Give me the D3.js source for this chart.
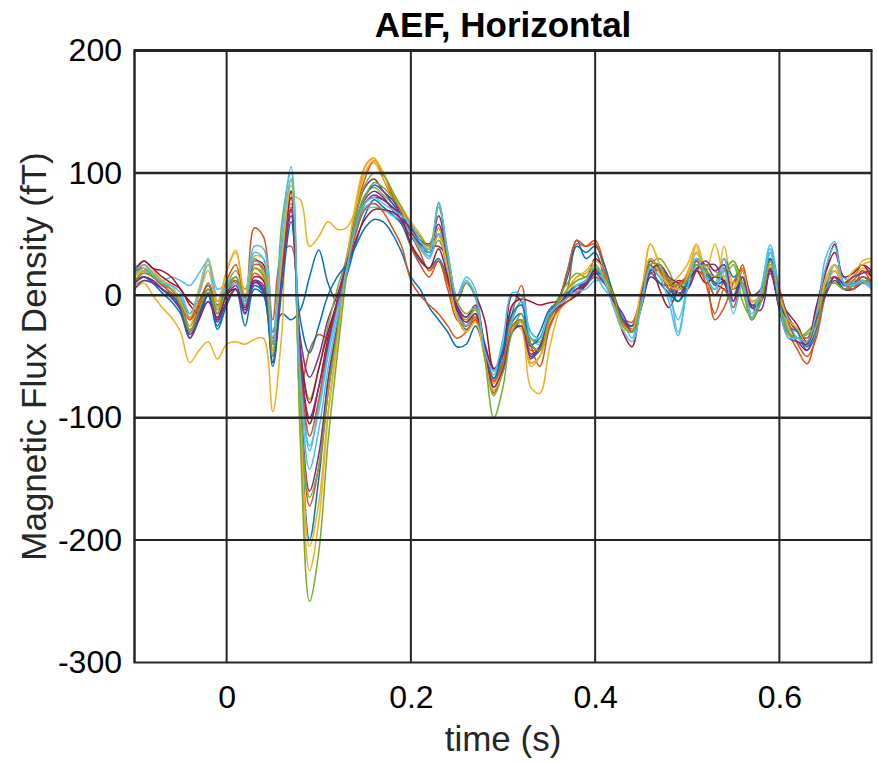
<!DOCTYPE html>
<html>
<head>
<meta charset="utf-8">
<script src="https://cdn.jsdelivr.net/npm/d3@7"></script>
<style>
  html, body { margin: 0; padding: 0; background: #fff; }
  svg { display: block; font-family: "Liberation Sans", Arial, Helvetica, sans-serif; }
</style>
</head>
<body>
<svg id="chart" width="878" height="762"></svg>
<script>
// Sample times (s)
const time = [-0.10,-0.09,-0.08,-0.07,-0.06,-0.05,-0.04,-0.03,-0.02,-0.01,
  0.00,0.01,0.02,0.03,0.04,0.05,0.06,0.07,0.08,0.09,
  0.10,0.11,0.12,0.13,0.14,0.15,0.16,0.17,0.18,0.19,
  0.20,0.21,0.22,0.23,0.24,0.25,0.26,0.27,0.28,0.29,
  0.30,0.31,0.32,0.33,0.34,0.35,0.36,0.37,0.38,0.39,
  0.40,0.41,0.42,0.43,0.44,0.45,0.46,0.47,0.48,0.49,
  0.50,0.51,0.52,0.53,0.54,0.55,0.56,0.57,0.58,0.59,
  0.60,0.61,0.62,0.63,0.64,0.65,0.66,0.67,0.68,0.69,
  0.70];

// Averaged evoked field per horizontal channel (fT)
const ch01 = [20,22,15,10,5,-2,-18,-5,8,-8, 6,12,-2,12,2,-30,-15,-20,-12,15, 37,10,-5,15,42,65,78,72,66,58, 40,28,22,30,12,-15,-28,-20,-45,-68, -50,-22,-15,-42,-30,-12,-4,20,45,30, 35,15,-5,-22,-30,-10,20,22,10,0, 12,30,22,8,12,10,20,-8,0,30, 5,-20,-28,-40,-22,8,20,8,10,15, 12];
const ch02 = [15,25,18,10,0,-8,-25,-10,10,-5, 8,15,-2,55,48,-20,35,40,-77,-45, -32,-35,-5,30,70,105,112,95,80,68, 50,35,20,28,10,-15,-25,-18,-48,-80, -60,-15,8,-40,-58,-28,-10,5,42,40, 45,25,0,-18,-22,0,20,25,15,5, 18,35,20,-20,-10,10,22,0,5,28, 2,-30,-45,-56,-30,12,25,10,12,20, 15];
const ch03 = [5,10,0,-10,-18,-30,-55,-45,-38,-52, -40,-38,-40,-36,-35,-95,-30,80,78,40, 48,60,54,55,70,100,108,95,82,70, 55,42,35,50,22,-10,-30,-20,-50,-78, -60,-25,-28,-75,-80,-45,-15,0,12,15, 25,12,-5,-25,-30,-2,42,25,5,8, 18,40,10,5,40,10,15,-10,0,22, -5,-20,-30,-38,-20,15,20,10,15,22, 18];
const ch04 = [10,15,12,5,0,-10,-30,-12,2,-15, 0,8,-10,12,5,-45,20,65,-35,-67, -50,-20,0,25,55,78,85,80,70,60, 48,40,35,55,25,-8,-18,-10,-40,-75, -58,-28,-25,-52,-42,-20,-10,-5,0,8, 18,15,0,-18,-28,-8,18,20,12,2, 5,22,25,15,22,0,10,-8,-5,18, -10,-25,-30,-38,-22,2,15,5,8,10, 8];
const ch05 = [8,12,10,5,0,-12,-35,-15,0,-20, 8,20,5,30,18,-40,40,75,-45,-85, -60,-25,5,30,60,82,88,82,75,65, 50,40,32,45,20,-12,-20,-12,-42,-72, -48,-18,-5,-30,-35,-15,-5,0,8,12, 20,18,2,-22,-30,-5,25,30,20,5, 8,20,15,15,20,28,10,-20,-5,20, -5,-25,-35,-30,-22,5,15,5,10,12, 10];
const ch06 = [25,22,18,12,15,12,8,18,28,5, 10,15,0,40,38,-38,35,85,-60,-123, -95,-50,-15,25,55,72,75,70,65,62, 55,42,32,75,35,0,15,5,-45,-65, -40,-10,0,-35,-40,-15,-5,0,5,8, 15,5,-5,-20,-35,0,20,15,5,-30, 5,35,20,0,25,-10,10,-15,5,41, 5,-25,-35,-40,-20,30,44,10,5,10, 5];
const ch07 = [18,28,22,20,15,5,-5,-10,0,-20, 2,10,-8,28,25,-30,25,70,-45,-88, -60,-30,-5,25,55,75,80,78,72,65, 58,45,40,40,30,-5,10,0,-20,-60, -45,0,-5,-40,-45,-20,-10,-5,0,10, 30,20,-5,-30,-42,-5,25,5,-10,5, 15,25,20,10,5,0,15,-10,-5,30, -5,-15,-25,-40,-10,20,42,10,15,25, 15];
const ch08 = [12,15,10,2,-5,-15,-35,-20,0,-28, -8,5,-25,5,0,-55,20,85,-100,-200, -150,-80,-30,20,55,80,90,85,75,65, 55,45,35,50,20,-15,-25,-15,-45,-70, -55,-28,-20,-50,-45,-20,-5,15,40,35, 40,25,0,-20,-28,-5,28,22,10,-5, 5,25,18,10,30,15,20,-5,0,35, 5,-18,-30,-45,-30,5,25,15,10,15, 12];
const ch09 = [10,20,15,8,5,-5,-20,-5,5,-10, 12,25,-2,18,12,-40,25,70,-85,-172, -140,-70,-25,25,65,95,110,100,82,68, 40,25,15,28,5,-20,-25,-18,-50,-75, -62,-30,-25,-55,-50,-25,-12,-5,2,10, 15,10,-5,-25,-30,-10,20,25,12,8, 15,20,15,0,10,5,25,-5,0,20, -5,-20,-30,-35,-15,10,15,5,5,20, 10];
const ch10 = [15,20,18,12,5,-10,-25,0,20,-10, 20,35,0,32,30,-45,25,80,-100,-205, -170,-95,-35,25,70,100,110,100,85,72, 60,50,40,55,25,-18,-30,-20,-50,-72, -58,-25,-22,-58,-50,-20,-5,5,15,20, 28,20,-8,-28,-25,0,42,25,10,15, 25,42,20,10,30,5,20,-5,0,28, 0,-25,-28,-40,-25,10,20,10,15,28, 30];
const ch11 = [5,12,10,5,-2,-10,-35,-18,0,-22, 0,5,-15,10,5,-55,20,85,-80,-160, -130,-70,-25,25,65,88,95,85,78,65, 52,42,38,65,30,-10,-25,-15,-45,-78, -62,-30,-22,-48,-42,-18,-8,-2,5,12, 20,15,-2,-20,-25,0,30,20,5,0, 10,28,25,25,10,-5,20,0,5,20, -10,-30,-38,-45,-25,0,12,5,5,10, 12];
const ch12 = [18,22,16,10,5,-5,-28,-15,5,-12, 5,15,-5,22,15,-50,30,95,-85,-165, -140,-80,-30,20,55,80,92,88,80,70, 55,45,38,72,35,-5,10,-2,-48,-82, -62,-30,-15,-35,-38,-18,-2,10,18,15, 22,12,0,-22,-30,-5,20,22,15,5, 10,20,25,20,15,25,-5,-18,0,25, -10,-32,-35,-30,-20,5,10,5,8,10, 10];
const ch13 = [18,20,15,10,5,-2,-15,5,30,-5, 8,12,-8,28,22,-30,40,95,-60,-127, -90,-45,-10,25,50,70,72,70,68,62, 50,38,30,50,18,-15,-25,-15,-38,-62, -48,-20,-5,-35,-35,-15,-5,0,3,5, 12,10,-2,-18,-25,-5,18,10,0,-20, 5,25,15,5,30,-5,8,-20,-5,35, 5,-28,-30,-42,-30,0,25,15,10,12, 8];
const ch14 = [20,28,22,15,10,5,-8,-15,-5,-18, 0,5,-12,15,12,-40,25,80,-50,-105, -75,-35,-5,20,45,62,70,70,68,62, 42,30,22,38,15,-12,-22,-15,-40,-60, -48,-8,-3,-5,-8,-6,-5,0,5,8, 22,15,0,-20,-25,-10,15,10,8,12, 12,20,10,15,12,5,10,-10,-5,22, -8,-20,-28,-38,-10,18,35,15,18,25, 20];
const ch15 = [12,15,12,5,0,-8,-30,-15,0,-25, -5,5,-15,8,2,-58,5,60,-20,-47, -25,0,15,25,40,55,62,60,50,35, 15,5,-10,-20,-30,-42,-40,-25,-45,-68, -45,-15,-8,-40,-35,-15,-5,2,8,10, 18,15,-2,-20,-25,-8,18,10,2,-5, 10,28,20,10,10,0,15,-10,-5,30, -5,-20,-30,-42,-28,2,15,5,8,12, 10];
const ch16 = [10,18,15,8,2,-5,-20,-8,5,-15, 5,12,-5,25,22,-35,20,72,-55,-115, -85,-40,-8,20,50,70,75,68,55,40, 12,0,-8,-15,-25,-35,-30,-20,-45,-70, -55,-25,-20,-45,-42,-18,-5,20,45,40, 42,20,-5,-22,-28,-5,20,20,5,10, 15,28,10,-15,5,-10,15,-20,-5,25, 5,-22,-40,-50,-35,0,15,10,5,15, 10];
const ch17 = [15,22,20,12,8,-5,-18,5,28,-5, 20,37,0,22,18,-45,30,90,-110,-225, -185,-100,-40,25,75,105,112,100,85,70, 55,45,38,48,22,-18,-30,-22,-50,-78, -60,-28,-22,-55,-50,-22,-8,5,15,18, 25,15,-8,-25,-28,5,30,18,8,5, 15,35,18,42,15,5,20,-5,0,25, 0,-20,-28,-40,-25,12,25,10,20,25, 28];
const ch18 = [10,15,12,5,-2,-12,-32,-20,-5,-20, -5,5,-15,12,8,-50,15,70,-50,-100, -75,-40,-5,25,55,75,82,78,72,62, 55,45,42,58,28,-10,-18,-8,-42,-75, -60,-30,-25,-50,-42,-20,-8,0,5,10, 18,10,-5,-15,-30,-10,20,25,15,10, 5,20,28,20,25,-5,15,-10,-12,22, -12,-35,-38,-40,-20,0,15,10,15,18, 20];
const ch19 = [12,18,15,10,5,-8,-30,-12,5,-15, 5,15,-5,22,16,-50,60,100,-120,-250, -210,-120,-50,15,65,90,100,98,85,72, 58,48,40,75,30,-5,-15,-10,-50,-100, -75,-30,-20,-40,-45,-20,-5,5,12,15, 22,15,0,-25,-30,-5,25,25,10,8, 12,25,20,15,20,28,5,-20,-5,28, -5,-30,-35,-32,-25,5,10,5,8,12, 10];
const ch20 = [20,25,18,10,8,2,-15,2,25,0, 5,10,-5,35,30,-40,50,105,-70,-142, -110,-60,-20,20,55,75,80,75,70,65, 58,45,35,76,35,0,12,0,-45,-62, -35,2,0,-30,-35,-15,-8,-2,8,12, 25,12,-10,-28,-38,-10,22,15,-5,-33, 5,30,15,5,20,-15,10,-18,5,38, -8,-35,-35,-38,-15,22,40,10,8,12, 5];

const channels = [ch01,ch02,ch03,ch04,ch05,ch06,ch07,ch08,ch09,ch10,
                  ch11,ch12,ch13,ch14,ch15,ch16,ch17,ch18,ch19,ch20];

// Line colour cycle
const palette = ["#0072BD","#D95319","#EDB120","#7E2F8E","#77AC30","#4DBEEE","#A2142F"];

// Axis ticks
const xTicks = [0, 0.2, 0.4, 0.6];
const xTickLabels = ["0", "0.2", "0.4", "0.6"];
const yTicks = [200, 100, 0, -100, -200, -300];
const yTickLabels = ["200", "100", "0", "-100", "-200", "-300"];
const yGrid = [100, 0, -100, -200];

const titleText = "AEF, Horizontal";
const xLabelText = "time (s)";
const yLabelText = "Magnetic Flux Density (fT)";

const svg = d3.select("#chart");
const L = 134.5, R = 871.5, T = 50.5, B = 662.5;
const ink = "#262626";

const x = d3.scaleLinear().domain([-0.1, 0.7]).range([L, R]);
const y = d3.scaleLinear().domain([-300, 200]).range([B, T]);

svg.append("rect").attr("width", 878).attr("height", 762).attr("fill", "#fff");

// Traces
const line = d3.line()
  .x((d, i) => x(time[i]))
  .y(d => y(d))
  .curve(d3.curveCatmullRom.alpha(0.5));

svg.append("defs").append("clipPath").attr("id", "plotclip")
  .append("rect").attr("x", L).attr("y", T).attr("width", R - L).attr("height", B - T);

svg.append("g").attr("clip-path", "url(#plotclip)")
  .selectAll("path").data(channels).join("path")
  .attr("d", line)
  .attr("fill", "none")
  .attr("stroke", (d, i) => palette[i % palette.length])
  .attr("stroke-width", 1.5)
  .attr("stroke-linejoin", "round");

// Grid, drawn over the traces
const grid = svg.append("g");
grid.selectAll("line.vx").data(xTicks).join("line")
  .attr("x1", d => x(d)).attr("x2", d => x(d))
  .attr("y1", T).attr("y2", B)
  .attr("stroke", ink).attr("stroke-width", 2);
grid.selectAll("line.hy").data(yGrid).join("line")
  .attr("x1", L).attr("x2", R)
  .attr("y1", d => y(d)).attr("y2", d => y(d))
  .attr("stroke", ink).attr("stroke-width", d => d === -200 ? 2 : 2.5);

// Box
const box = svg.append("g").attr("stroke", ink);
box.append("line").attr("x1", L - 1).attr("x2", R + 1).attr("y1", T).attr("y2", T).attr("stroke-width", 3);
box.append("line").attr("x1", L - 1).attr("x2", R + 1).attr("y1", B).attr("y2", B).attr("stroke-width", 2);
box.append("line").attr("x1", L).attr("x2", L).attr("y1", T).attr("y2", B).attr("stroke-width", 2.5);
box.append("line").attr("x1", R).attr("x2", R).attr("y1", T).attr("y2", B).attr("stroke-width", 2);

// Axes (labels only; the box and grid carry the lines)
const xAxis = d3.axisBottom(x).tickValues(xTicks)
  .tickFormat((d, i) => xTickLabels[i]).tickSize(0).tickPadding(22.5);
const gx = svg.append("g").attr("transform", `translate(0,${B})`).call(xAxis);
gx.select(".domain").remove();
gx.selectAll("text").attr("font-size", 32).attr("fill", "#000")
  .attr("font-family", "Liberation Sans, Arial, sans-serif");

const yAxis = d3.axisLeft(y).tickValues(yTicks)
  .tickFormat((d, i) => yTickLabels[i]).tickSize(0).tickPadding(12.5);
const gy = svg.append("g").attr("transform", `translate(${L},0)`).call(yAxis);
gy.select(".domain").remove();
gy.selectAll("text").attr("font-size", 32).attr("fill", "#000")
  .attr("font-family", "Liberation Sans, Arial, sans-serif");

// Title and axis labels
svg.append("text")
  .attr("x", (L + R) / 2).attr("y", 37)
  .attr("text-anchor", "middle")
  .attr("font-size", 35).attr("font-weight", "bold").attr("fill", "#000")
  .text(titleText);

svg.append("text")
  .attr("x", (L + R) / 2).attr("y", 751)
  .attr("text-anchor", "middle")
  .attr("font-size", 35).attr("fill", "#262626")
  .text(xLabelText);

svg.append("text")
  .attr("transform", `translate(46,${(T + B) / 2}) rotate(-90)`)
  .attr("text-anchor", "middle")
  .attr("font-size", 35).attr("fill", "#262626")
  .text(yLabelText);
</script>
</body>
</html>
